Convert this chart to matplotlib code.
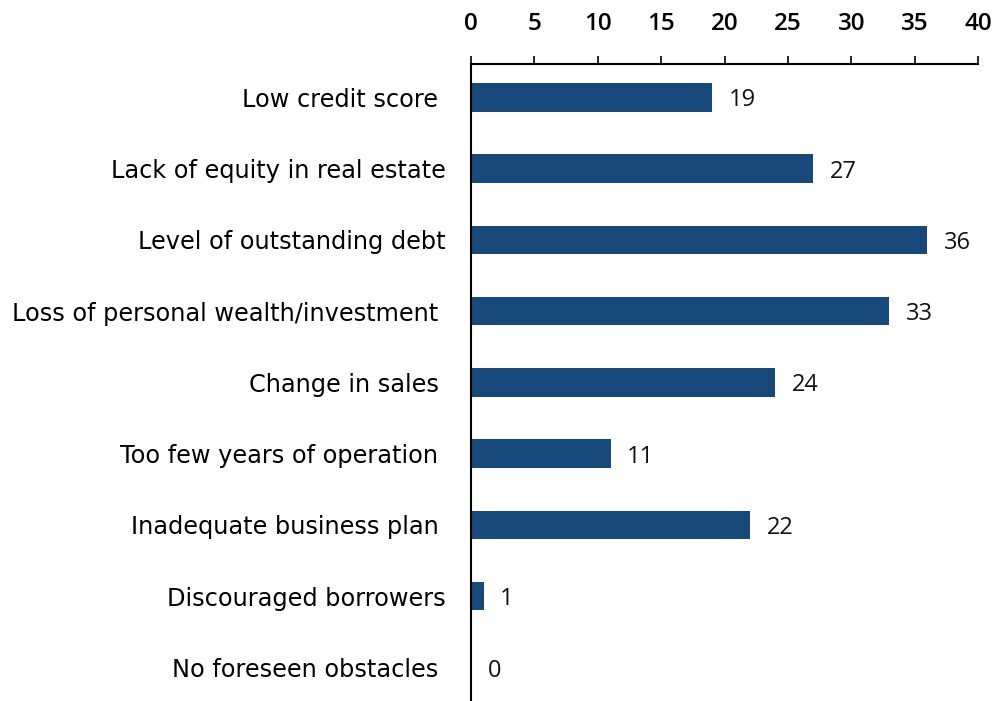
import matplotlib.pyplot as plt
from matplotlib.ticker import MultipleLocator

# reasons given as obstacles to obtaining credit (percent)
categories = ['Low credit score ', 'Lack of equity in real estate',
              'Level of outstanding debt', 'Loss of personal wealth/investment ',
              'Change in sales ', 'Too few years of operation ',
              'Inadequate business plan ', 'Discouraged borrowers',
              'No foreseen obstacles ']
values = [19, 27, 36, 33, 24, 11, 22, 1, 0]

bar_color = '#17497a'

fig = plt.figure(figsize=(9.96, 7.01), dpi=100)
ax = fig.add_axes([0.473, 0.0, 0.509, 0.909])

pos = list(range(len(categories)))
ax.barh(pos, values, height=0.4, color=bar_color)

# value labels at the end of each bar
for y, v in zip(pos, values):
    ax.text(v + 1.3, y, str(v), va='center_baseline', ha='left',
            fontsize=17, family='Open Sans', color='#111111')

ax.set_xlim(0, 40)
ax.set_ylim(8.47, -0.47)
ax.xaxis.set_major_locator(MultipleLocator(5))
ax.xaxis.tick_top()
ax.tick_params(axis='x', direction='out', length=6, width=1.2, pad=14,
               labelsize=17.5)
for lbl in ax.get_xticklabels():
    lbl.set_family('Open Sans')
    lbl.set_fontweight('semibold')

ax.set_yticks(pos)
ax.set_yticklabels(categories, family='DejaVu Sans', fontsize=17.3)
ax.tick_params(axis='y', length=0, pad=18)

for side in ['right', 'bottom']:
    ax.spines[side].set_visible(False)
ax.spines['top'].set_linewidth(1.5)
ax.spines['left'].set_linewidth(1.5)

plt.savefig('out.png', dpi=100)
